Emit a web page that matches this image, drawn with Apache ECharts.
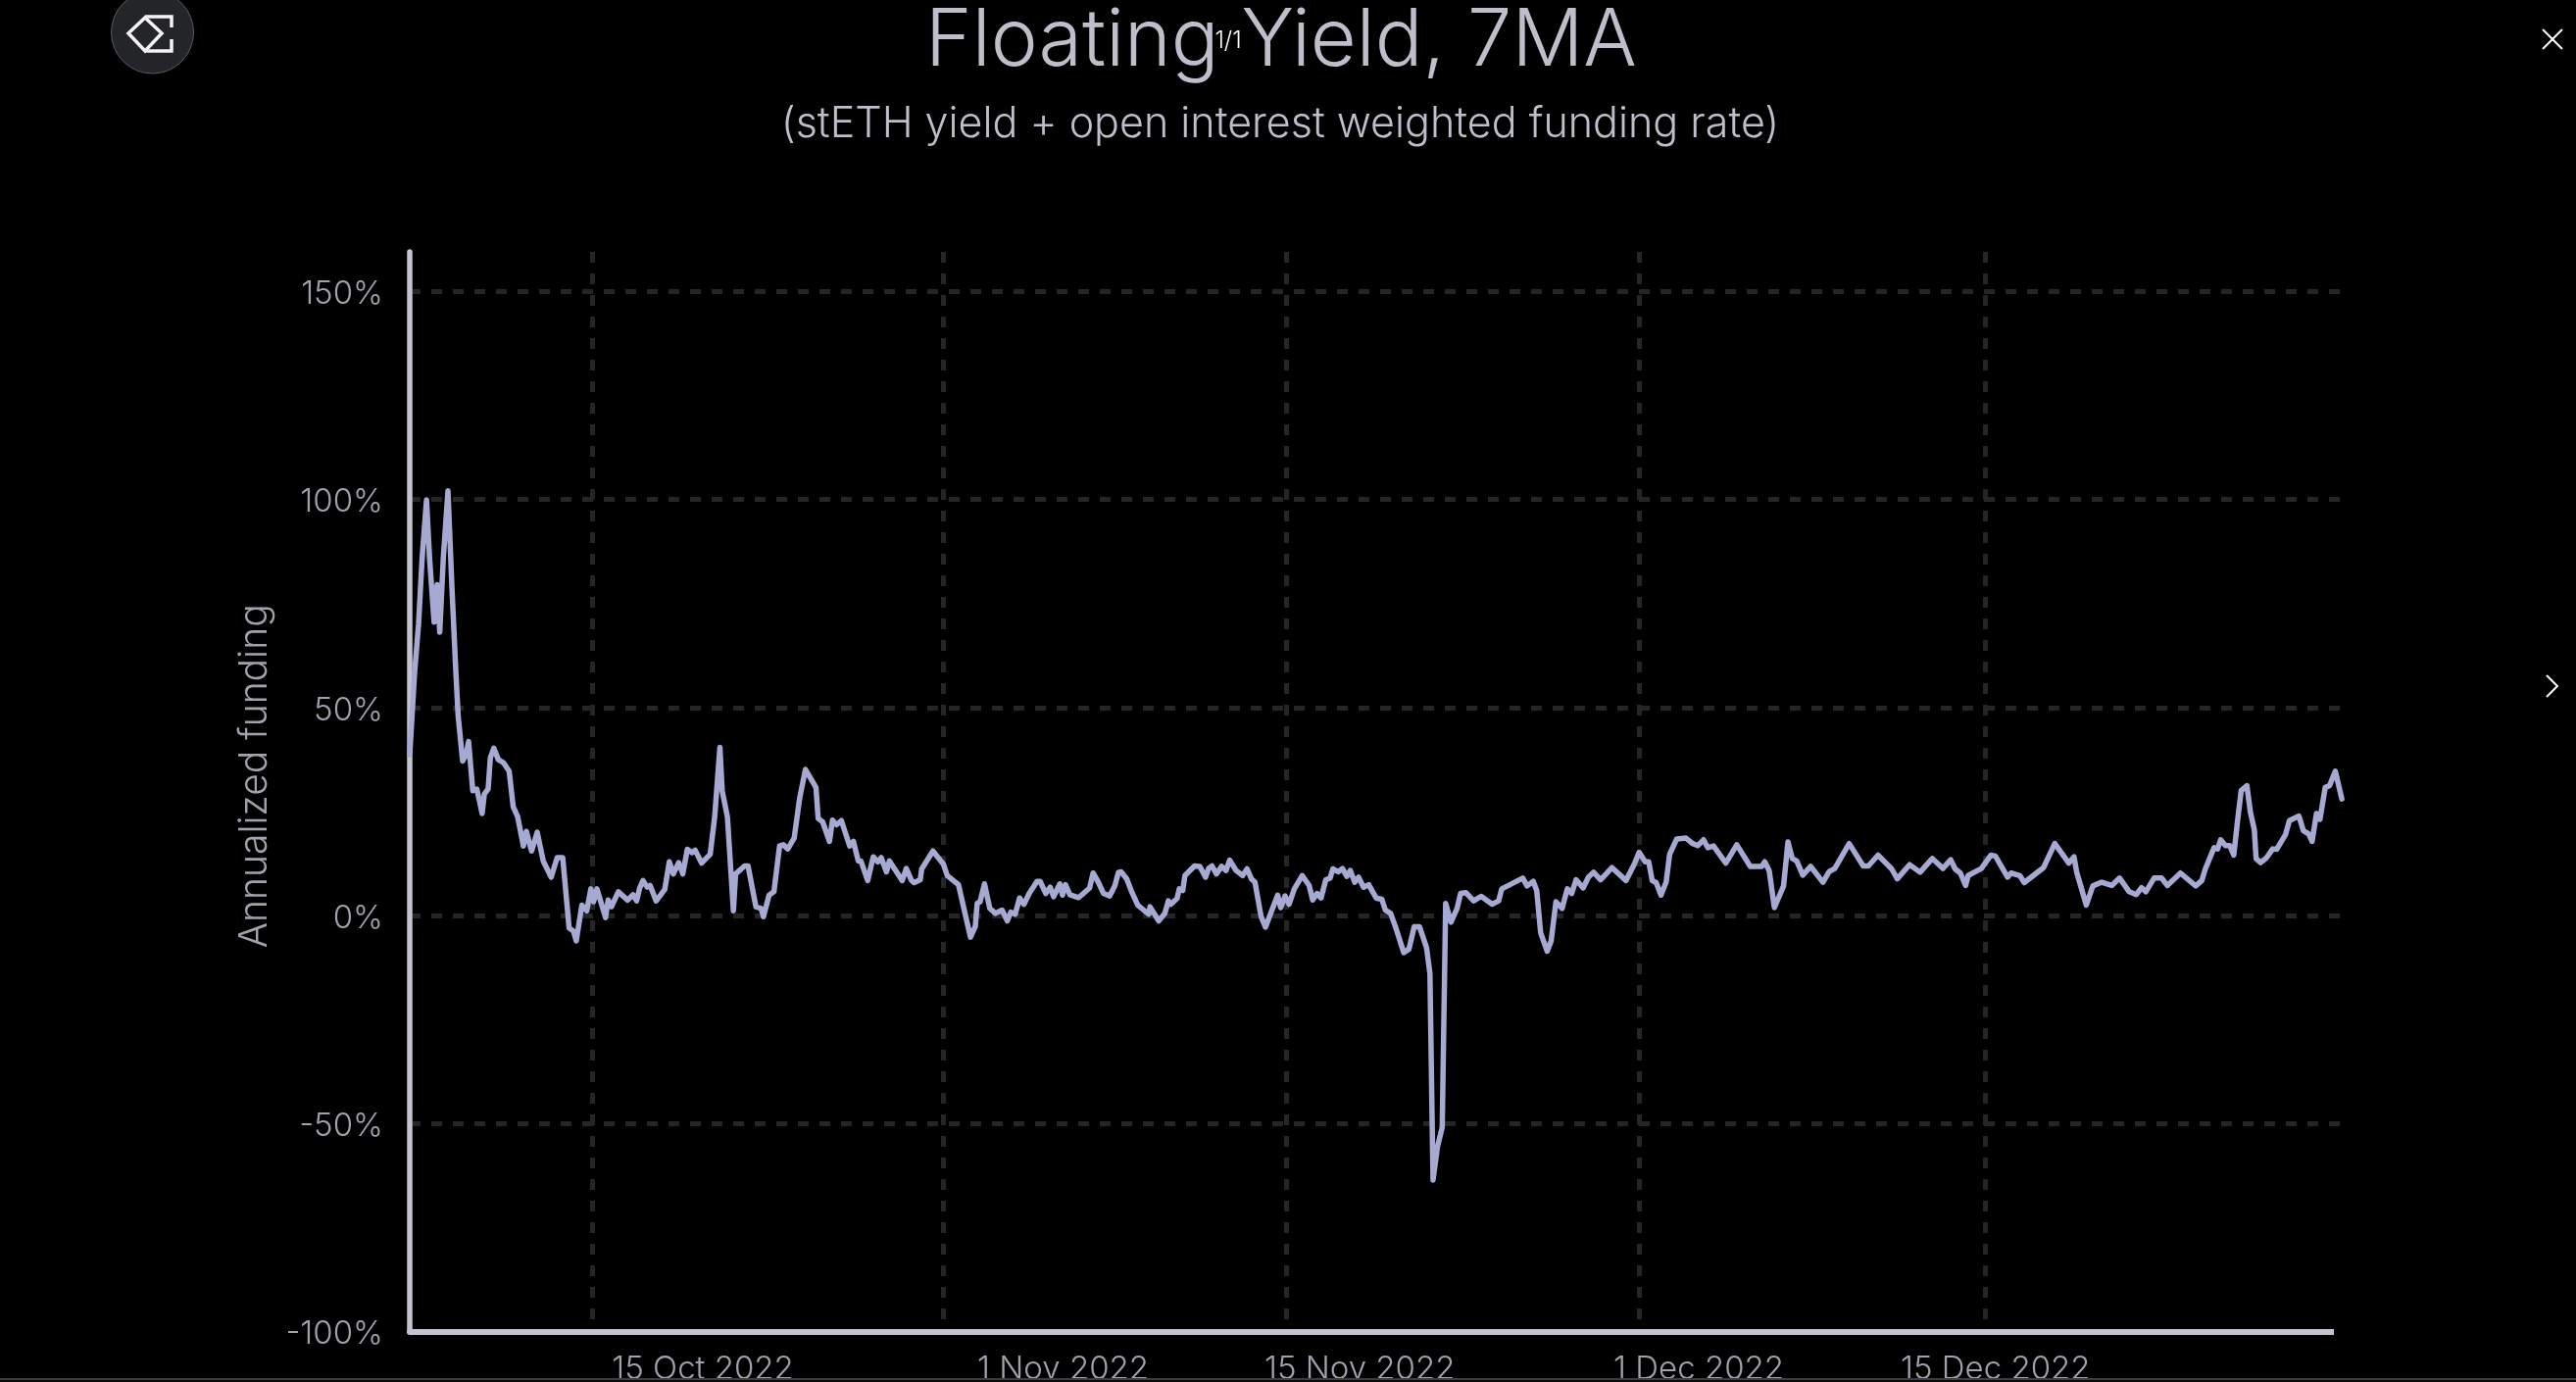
<!DOCTYPE html>
<html>
<head>
<meta charset="utf-8">
<style>html,body{margin:0;padding:0;background:#000;}#c{width:2628px;height:1410px;}</style>
<script src="https://cdn.jsdelivr.net/npm/echarts@6/dist/echarts.min.js"></script>
</head>
<body>
<div id="c"></div>
<script>
const titleText = 'Floating Yield, 7MA';
const subtitleText = '(stETH yield + open interest weighted funding rate)';
const yAxisTitle = 'Annualized funding';
const yTicks = [-100, -50, 0, 50, 100, 150];
// x positions are hours since 1 Oct 2022 04:00
const xLabelHours = [332, 740, 1076, 1460, 1796];
const xLabelTexts = ['15 Oct 2022','1 Nov 2022','15 Nov 2022','1 Dec 2022','15 Dec 2022'];
const xGridHours = [206.5, 604, 992.5, 1393, 1784];
const hoursSinceStart = [0,5.5,10,14,19,22.5,27.6,31,34,38,43.3,48,52.3,54.8,59.9,63.7,66.7,71.4,76,82,84.5,88.8,91.3,95.2,100.3,106.2,112.6,117.2,122.3,128.7,132.1,138,144.4,151.2,160.2,167,173.3,180.5,185.6,188.6,195,200.5,205.2,208.2,212,221.8,224.7,228.5,236.2,246.8,252.8,257,260.4,264.2,268.9,272.3,279.1,288.9,294,298.6,304.6,309.3,314.4,319.9,323.3,330.5,340.3,345.4,351.3,353.9,359.8,366.6,369.1,379.3,383.2,392.1,398,400.6,407,412.5,418.9,423.1,428.2,435.4,441.8,448.2,460.1,462.6,467.7,475.4,478.8,483.4,488.9,498.3,502.5,508,511,518.7,525,530.2,534,539.9,543.3,557.8,562.4,568.4,571.4,578.2,579.9,592.6,604.5,608.8,621.5,635.1,640.6,642.7,
646,651,657,663.4,670.9,676.8,680.8,685.7,690.7,695.7,701.6,710.5,714,720.4,725.4,729.3,736.3,739.3,742.7,747.7,757.6,770,774,779.9,785.8,792.8,798.7,802.7,805.7,812.1,817.1,824.5,836.9,838.4,848.3,855.2,859.2,862.2,869.1,871.6,875.5,878,888.9,894.9,901.3,904.8,908.7,913.7,919.6,924.6,928.6,936,943.4,948.4,953.3,957.3,964.2,969.2,983,986.5,991.5,995.9,1001.9,1010.8,1018.7,1022.7,1027.7,1032.1,1037.6,1042.5,1045.5,1051.5,1056.4,1061.4,1065.3,1070.3,1074.7,1080.2,1086.1,1094.6,1101,1105,1110.9,1116.9,1125.8,1131.7,1137.7,1143.6,1151.6,1155.5,1159,1164,1169.4,1173.3,1179.3,1186.2,1190.2,1196.1,1205,1213.5,1225.9,1233.3,1236.8,1260.6,1265.5,1272.5,1276.4,1280.9,1288.3,1292.8,1298.2,1305.2,1311.1,1316.1,1321,1329,1334.9,1340.8,1348.8,1361.7,1377.5,1386.9,1392.4,1399.3,1403.3,1407.2,1411.7,1417.2,
1423,1427,1435,1445.5,1453,1459,1465.3,1470.3,1476.7,1490.6,1503,1518.3,1531.2,1534.7,1539.7,1545.6,1556,1561,1565.9,1570.9,1577.8,1586.7,1600.6,1607.5,1614,1630.3,1646.2,1652.1,1663,1678.4,1684.8,1698.7,1710.6,1724.5,1736.4,1745.3,1750.3,1756.2,1762.2,1765.1,1780,1790.9,1795.9,1809.7,1813.7,1823.6,1828.6,1850.4,1863.2,1879.1,1885,1888,1898.9,1906.3,1916.3,1927.7,1936.6,1947.5,1955.4,1961.4,1966.3,1975.7,1984.2,1990.6,2005.5,2022.8,2029.7,2033.7,2043.6,2047.6,2051,2056.5,2061.4,2065.9,2069.9,2074.3,2080.8,2084.7,2089.2,2091.2,2096.2,2103.1,2110,2114.5,2124.4,2128.9,2139.7,2144.7,2150.7,2154.6,2159.6,2163.5,2169.5,2174.4,2180.9,2188.3];
const floatingYield = [38.6,58.3,70,85.8,99.9,85.8,70.5,79.5,68.1,85.8,102.1,77.9,58.3,48.1,37.1,38.6,41.8,30,30.4,24.5,29.2,30.4,37.9,40.2,37.5,36.7,34.7,26.1,23.7,16.7,20.2,15.5,20,13.1,9.2,13.9,13.9,-3,-3.8,-6.1,2.5,1.1,6.4,3.3,6.4,-0.5,3.7,2.1,5.7,3.7,5,3.5,6.6,8.4,6.8,7.2,3.5,6.3,12.9,10,12.7,10,15.9,15.1,15.7,12.6,14.7,23.7,40.4,30,23.7,1.1,10,11.9,11.9,2.1,1.7,-0.3,4.9,5.7,16.7,17,16,18.6,28.4,35.1,30.8,23.3,22.5,17.8,22.9,21.8,22.8,16.7,17.8,13.1,13.1,8.4,14.1,12.9,13.9,10.5,13.1,8.4,11.3,8.4,7.9,8.6,11.2,15.5,12.3,9.6,7.4,-5.2,-2.6,2.9,
3.3,7.6,1.7,0.5,1.3,-1.3,0.8,0.3,4.2,2.7,5.3,8.2,8.2,5.3,6.8,4.5,7.6,4.9,7.4,5,4.3,6.6,10.2,8,5.3,4.7,7.2,10.4,10.5,8.8,6,2.5,0.3,2.1,-1.3,0.5,3.5,2.7,4.1,6.4,6,9.6,11.9,11.8,9.2,11.3,11.9,10,11.8,10.8,13.3,10.8,9.6,11.2,8.8,8,-0.2,-2.8,4.9,1.9,4.7,2.7,6.4,9.6,7.2,3.7,5.3,4.2,8.6,9,11.2,10.5,11.3,9.4,10.8,8,9.2,6.8,7.4,4.2,3.9,1.3,0.5,-3,-8.9,-8.1,-2.7,-2.7,-7.7,-14,-63.6,-55.6,-50.9,2.9,-1.6,1.7,5.3,5.5,3.5,4.6,2.7,3.5,6.4,9,7.1,8.2,6,-4.2,-8.6,-6.1,3.3,1.7,6.4,5.3,8.6,6.6,9.2,10.4,8.6,11.5,8.4,12.3,15.2,12.9,12.9,8.4,7.9,4.9,
8,14.7,18.4,18.6,17.3,16.8,18.2,16.3,16.7,12.6,17,11.8,11.8,12.9,10.8,1.9,7.1,17.7,13.7,13.1,9.7,11.8,8,10.5,11.3,17.3,11.9,11.9,14.5,11.2,8.8,12.2,10.4,13.7,11.3,13.4,11.2,10.2,7.2,9.6,11.3,14.5,14.3,9.2,10.2,9.6,7.9,11.5,17.3,12.6,14.1,10.4,2.5,7.1,8,7.2,9,5.7,5,6.7,5.7,9,9,7.2,10.2,7.1,8.4,11.2,16.3,16,18.2,16.8,16.8,14.5,22.2,30,31.2,24.9,20.6,13.7,12.7,13.9,16,15.9,19.4,22.8,23.9,20.4,19.6,17.8,24.5,23.1,30.8,31.2,34.7,28];

const TITLE_FONT = 'Inter';
const AXIS_FONT = 'Inter';
const seriesData = hoursSinceStart.map((h, i) => [h, floatingYield[i]]);
const AXIS_TEXT = {color: '#a2a2ae', fontFamily: AXIS_FONT, fontWeight: 300, fontSize: 33};

const chart = echarts.init(document.getElementById('c'), null, {renderer: 'canvas'});
chart.setOption({
  animation: false,
  backgroundColor: '#000000',
  title: [
    {text: titleText, left: 1302, top: -4, textAlign: 'center',
     textStyle: {color: '#bfbfcb', fontFamily: TITLE_FONT, fontWeight: 300, fontSize: 81, lineHeight: 84}},
    {text: subtitleText, left: 1301, top: 97, textAlign: 'center',
     textStyle: {color: '#bfbfcb', fontFamily: TITLE_FONT, fontWeight: 300, fontSize: 43, lineHeight: 50}}
  ],
  grid: {left: 418, right: 237, top: 257, bottom: 51.5, containLabel: false, outerBoundsMode: 'none'},
  xAxis: {
    type: 'value', min: 0, max: 2190.4,
    axisLine: {show: true, onZero: false, lineStyle: {color: '#c4c4d0', width: 6}},
    axisTick: {show: false, customValues: xGridHours},
    splitLine: {show: true, lineStyle: {color: '#242527', width: 5, type: [11, 11]}},
    axisLabel: Object.assign({}, AXIS_TEXT, {
      customValues: xLabelHours, margin: 22, hideOverlap: false,
      formatter: v => xLabelTexts[xLabelHours.indexOf(v)] || ''
    })
  },
  yAxis: {
    type: 'value', min: -100, max: 159.5,
    name: yAxisTitle, nameLocation: 'middle', nameGap: 138, nameRotate: 90,
    nameTextStyle: {color: '#a2a2ae', fontFamily: AXIS_FONT, fontWeight: 300, fontSize: 39, padding: [0, 0, 0, 32]},
    axisLine: {show: true, lineStyle: {color: '#c4c4d0', width: 5.5}},
    axisTick: {show: false, customValues: yTicks},
    splitLine: {show: true, lineStyle: {color: '#242527', width: 5, type: [11, 11]}},
    axisLabel: Object.assign({}, AXIS_TEXT, {
      customValues: yTicks, margin: 27,
      rich: {a: Object.assign({}, AXIS_TEXT, {padding: [6, 0, 0, 0]})},
      formatter: v => '{a|' + v + '%}'
    })
  },
  series: [{
    type: 'line', data: seriesData, showSymbol: false, clip: false, smooth: false,
    lineStyle: {color: '#a6a9d2', width: 5.5, join: 'round', cap: 'round'},
    itemStyle: {color: '#a6a9d2'}, z: 5
  }],
  graphic: [
    {type: 'rect', z: 19, shape: {x: 2381, y: 1350, width: 14, height: 14}, style: {fill: '#000000'}},
    {type: 'text', z: 20, style: {x: 1253, y: 42, text: '1/1', fill: '#ffffff', font: '300 24px Inter', align: 'center', verticalAlign: 'middle'}},
    {type: 'circle', z: 20, shape: {cx: 155.5, cy: 33, r: 42}, style: {fill: '#242528', stroke: '#5a5b60', lineWidth: 1}},
    {type: 'polygon', z: 21, shape: {points: [[131, 34], [148, 18], [165, 34], [148, 52]]}, style: {fill: 'none', stroke: '#f4f4f4', lineWidth: 3.5}},
    {type: 'polyline', z: 21, shape: {points: [[148, 17], [175, 17], [175, 28]]}, style: {fill: 'none', stroke: '#f4f4f4', lineWidth: 3.5}},
    {type: 'polyline', z: 21, shape: {points: [[175, 40], [175, 52], [148, 52]]}, style: {fill: 'none', stroke: '#f4f4f4', lineWidth: 3.5}},
    {type: 'polyline', z: 21, shape: {points: [[2594, 30], [2614, 50]]}, style: {fill: 'none', stroke: '#ffffff', lineWidth: 2}},
    {type: 'polyline', z: 21, shape: {points: [[2614, 30], [2594, 50]]}, style: {fill: 'none', stroke: '#ffffff', lineWidth: 2}},
    {type: 'polyline', z: 21, shape: {points: [[2598, 689], [2609, 700], [2598, 711]]}, style: {fill: 'none', stroke: '#ffffff', lineWidth: 2}},
    {type: 'rect', z: 22, shape: {x: 0, y: 1406, width: 2628, height: 4}, style: {fill: '#0a0a0b'}},
    {type: 'rect', z: 23, shape: {x: 0, y: 1406, width: 2628, height: 2}, style: {fill: '#3c3c42'}}
  ]
});
</script>
</body>
</html>
